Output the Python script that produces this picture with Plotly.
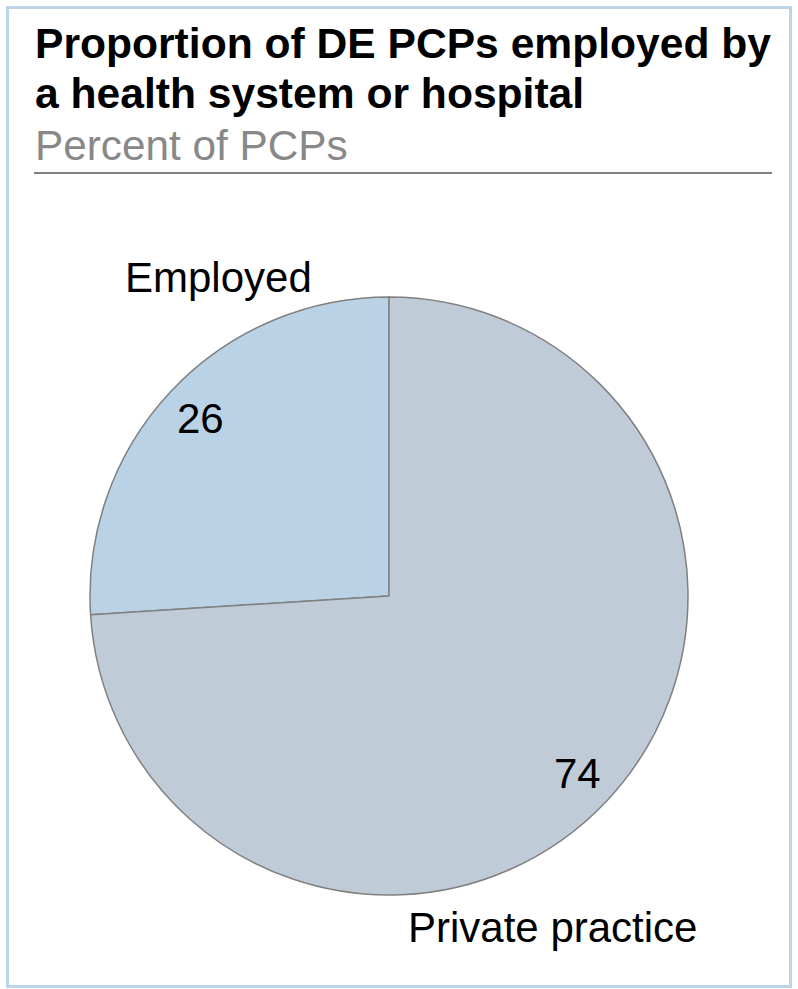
import math
import plotly.graph_objects as go

# Data
categories = ["Employed", "Private practice"]
values = [26, 74]
slice_colors = ["#bad2e6", "#bfcbd7"]

title_lines = ["Proportion of DE PCPs employed by", "a health system or hospital"]
subtitle = "Percent of PCPs"

W, H = 798, 989
FONT = "Liberation Sans, Arial, Helvetica, sans-serif"

# pie geometry in pixels
CX, CY, R = 389, 596, 299
LABEL_FRAC = 0.865


def px(x):
    return x / W


def py(y):
    return 1 - y / H


total = sum(values)
# first slice ends at 12 o'clock, i.e. slices are laid out counterclockwise from the top
start_rotation = -360.0 * values[0] / total

fig = go.Figure()
fig.add_trace(go.Pie(
    labels=categories,
    values=values,
    sort=False,
    direction="clockwise",
    rotation=start_rotation,
    textinfo="none",
    hoverinfo="label+value",
    marker=dict(colors=slice_colors, line=dict(color="#808080", width=1.5)),
    domain=dict(x=[px(CX - R), px(CX + R)], y=[py(CY + R), py(CY - R)]),
    showlegend=False,
))

annotations = []

# value labels along each slice bisector (counterclockwise from 12 o'clock)
start = 0.0
for v in values:
    mid = start + v / 2
    ang = 2 * math.pi * mid / total
    lx = CX - LABEL_FRAC * R * math.sin(ang)
    ly = CY - LABEL_FRAC * R * math.cos(ang)
    annotations.append(dict(
        x=px(lx), y=py(ly), xref="paper", yref="paper",
        text=str(v), showarrow=False, xanchor="center", yanchor="middle",
        font=dict(family=FONT, size=42, color="#000000"),
    ))
    start += v

# category names
name_pos = [(218, 277), (552, 927)]
for name, (nx, ny) in zip(categories, name_pos):
    annotations.append(dict(
        x=px(nx), y=py(ny), xref="paper", yref="paper",
        text=name, showarrow=False, xanchor="center", yanchor="middle",
        font=dict(family=FONT, size=42, color="#000000"),
    ))

# title and subtitle
for i, line in enumerate(title_lines):
    annotations.append(dict(
        x=px(33), y=py(43 + 50 * i), xref="paper", yref="paper",
        text=f"<b>{line}</b>", showarrow=False, xanchor="left", yanchor="middle",
        font=dict(family=FONT, size=42.6, color="#000000"),
    ))
annotations.append(dict(
    x=px(33), y=py(145), xref="paper", yref="paper",
    text=subtitle, showarrow=False, xanchor="left", yanchor="middle",
    font=dict(family=FONT, size=42.3, color="#888888"),
))

shapes = [
    # outer frame
    dict(type="rect", xref="paper", yref="paper",
         x0=px(7.5), x1=px(790.5), y0=py(986.5), y1=py(7.5),
         line=dict(color="#bcd5ea", width=3), fillcolor="rgba(0,0,0,0)"),
    # rule under the subtitle
    dict(type="line", xref="paper", yref="paper",
         x0=px(34), x1=px(772), y0=py(173), y1=py(173),
         line=dict(color="#808080", width=2)),
]

fig.update_layout(
    width=W, height=H,
    margin=dict(l=0, r=0, t=0, b=0),
    paper_bgcolor="#ffffff",
    plot_bgcolor="#ffffff",
    annotations=annotations,
    shapes=shapes,
    font=dict(family=FONT),
)

fig.write_html("out.html")
